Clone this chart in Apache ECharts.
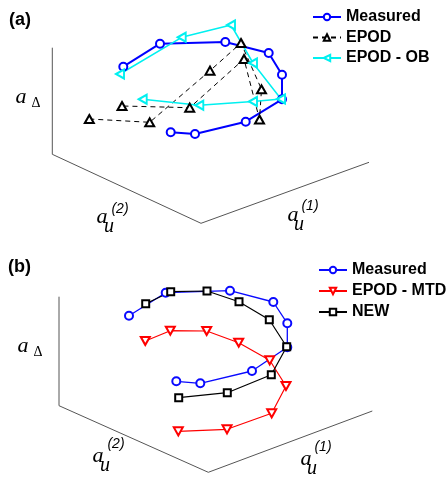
<!DOCTYPE html>
<html><head><meta charset="utf-8">
<script src="https://cdn.jsdelivr.net/npm/echarts@6/dist/echarts.min.js"></script>
<style>html,body{margin:0;padding:0;background:#fff}#c{width:448px;height:481px}</style>
</head><body><div id="c"></div>
<script>
// Panel (a) — projected positions
const measuredA = [[123.3,66.7],[160,43.7],[225.3,42],[268.7,53],[282,74.7],[282,99.3],[245.7,121.7],[195,134],[170.7,132.3]];
const epodA = [[89.3,119],[149.7,122.3],[210,70.7],[241,43],[261.5,89.3],[259.5,119.5],[244,59],[189.7,107.7],[122,106]];
const epodObA = [[120,74],[181.7,37.3],[231,25],[253,63],[281,99],[253,101.5],[199.3,105.3],[142.7,99.3]];
const boxA = [[52.3,47.7],[52.3,154.3],[201,223.3],[369,162.3]];
// Panel (b)
const measuredB = [[129,75.7],[165.7,52.7],[230,50.7],[273.3,62],[287.3,83.3],[287.3,107.3],[252,131],[200.3,143.3],[176.3,141.3]];
const mtdB = [[145.3,101],[170.3,90.7],[206.7,91],[238.7,102.7],[269.7,120.3],[286,146],[271.7,173.3],[227,189.3],[178.3,191.3]];
const newB = [[145.7,63.7],[170.7,51.7],[207,51],[239,61.7],[269.3,79.7],[286.7,106.7],[271.3,134.7],[227.3,152.7],[178.7,157.7]];
const boxB = [[59,56.7],[59,165.7],[208.3,232.3],[372.3,171]];

const legendA = ['Measured','EPOD','EPOD - OB'];
const legendB = ['Measured ','EPOD - MTD','NEW'];

const chart = echarts.init(document.getElementById('c'), null, {renderer:'canvas'});
const hx = i => ({gridIndex:i,type:'value',min:0,max:448,show:false});
const legText = {fontFamily:'"Liberation Sans", Arial, sans-serif',fontWeight:'bold',fontSize:16,color:'#000',lineHeight:18};
function txt(t, x, y, font, align){
  return {type:'text', silent:true, style:{text:t, x:x, y:y, font:font, fill:'#000', align:align||'center', verticalAlign:'middle'}};
}
const serif = 'italic 22px "Liberation Serif", "Times New Roman", serif';
const serifU = 'italic 20px "Liberation Serif", "Times New Roman", serif';
const sup = 'italic 14px "Liberation Sans", Arial, sans-serif';
const delta = '14px "Liberation Serif", serif';
function boxSeries(data, gi){
  return {type:'line', xAxisIndex:gi, yAxisIndex:gi, data:data, symbol:'none', silent:true,
    lineStyle:{color:'#555', width:1}, z:1};
}
const option = {
  animation:false,
  grid:[{left:0,top:0,width:448,height:240},{left:0,top:240,width:448,height:241}],
  xAxis:[hx(0),hx(1)],
  yAxis:[{gridIndex:0,type:'value',min:0,max:240,inverse:true,show:false},
         {gridIndex:1,type:'value',min:0,max:241,inverse:true,show:false}],
  legend:[
    {data:legendA, orient:'vertical', left:312, top:8, padding:0, itemWidth:28, itemHeight:8, itemGap:2.5, textStyle:legText},
    {data:legendB, orient:'vertical', left:318, top:261, padding:0, itemWidth:28, itemHeight:8, itemGap:3, textStyle:legText}
  ],
  series:[
    boxSeries(boxA,0),
    {name:'Measured', type:'line', xAxisIndex:0, yAxisIndex:0, data:measuredA, color:'#0000ff',
      symbol:'emptyCircle', symbolSize:8, itemStyle:{borderWidth:1}, lineStyle:{width:2}},
    {name:'EPOD', type:'line', xAxisIndex:0, yAxisIndex:0, data:epodA, color:'#000',
      symbol:'emptyTriangle', symbolSize:[9,8], itemStyle:{borderWidth:1}, lineStyle:{width:1,type:[5,4]}},
    {name:'EPOD - OB', type:'line', xAxisIndex:0, yAxisIndex:0, data:epodObA, color:'#00f0f0',
      symbol:'emptyTriangle', symbolRotate:90, symbolSize:[9,8], itemStyle:{borderWidth:1}, lineStyle:{width:1.5}},
    boxSeries(boxB,1),
    {name:'Measured ', type:'line', xAxisIndex:1, yAxisIndex:1, data:measuredB, color:'#0a0aff',
      symbol:'emptyCircle', symbolSize:8, itemStyle:{borderWidth:1}, lineStyle:{width:1.3}},
    {name:'EPOD - MTD', type:'line', xAxisIndex:1, yAxisIndex:1, data:mtdB, color:'#ff0000',
      symbol:'emptyTriangle', symbolRotate:180, symbolSize:[9,8], itemStyle:{borderWidth:1}, lineStyle:{width:1.2}},
    {name:'NEW', type:'line', xAxisIndex:1, yAxisIndex:1, data:newB, color:'#000',
      symbol:'emptyRect', symbolSize:7, itemStyle:{borderWidth:1}, lineStyle:{width:1.2}}
  ],
  graphic:[
    txt('(a)', 20, 20, 'bold 18px "Liberation Sans", Arial, sans-serif'),
    txt('(b)', 19.5, 267.5, 'bold 18px "Liberation Sans", Arial, sans-serif'),
    // panel a axis titles
    txt('a', 21, 97, serif), txt('\u0394', 36, 103, delta),
    txt('a', 102, 217, serif), txt('u', 109, 227, serifU), txt('(2)', 120, 209, sup),
    txt('a', 293, 215, serif), txt('u', 299, 225, serifU), txt('(1)', 310, 206, sup),
    // panel b axis titles
    txt('a', 23, 346, serif), txt('\u0394', 38, 352, delta),
    txt('a', 98, 456, serif), txt('u', 105, 466, serifU), txt('(2)', 116, 444, sup),
    txt('a', 306, 459, serif), txt('u', 312, 469, serifU), txt('(1)', 323, 447, sup)
  ]
};
chart.setOption(option);
</script></body></html>
